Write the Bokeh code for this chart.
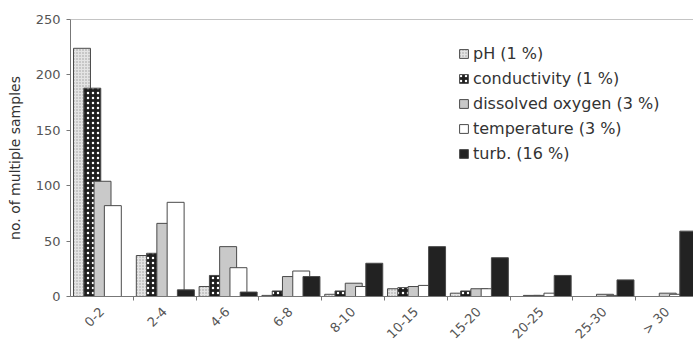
import math
from bokeh.plotting import figure
from bokeh.models import (ColumnDataSource, Range1d, FixedTicker, Span, Legend, LegendItem)
from bokeh.embed import file_html
from bokeh.resources import INLINE

categories = ["0-2", "2-4", "4-6", "6-8", "8-10", "10-15", "15-20", "20-25", "25-30", "> 30"]
ph = [224, 37, 9, 1, 2, 7, 3, 0, 0, 0]
conductivity = [188, 39, 19, 5, 5, 8, 5, 1, 0, 0]
dissolved_oxygen = [104, 66, 45, 18, 12, 9, 7, 1, 2, 3]
temperature = [82, 85, 26, 23, 9, 10, 7, 3, 1, 2]
turb = [0, 6, 4, 18, 30, 45, 35, 19, 15, 59]
series_labels = ["pH (1 %)", "conductivity (1 %)", "dissolved oxygen (3 %)",
                 "temperature (3 %)", "turb. (16 %)"]
y_ticks = [0, 50, 100, 150, 200, 250]

FONT = "DejaVu Sans"
offsets = [0.183, 0.347, 0.510, 0.674, 0.837]
bar_w = 0.27

p = figure(frame_width=623, frame_height=277, output_backend="svg", toolbar_location=None,
           x_range=Range1d(0, 9.92), y_range=Range1d(0, 250),
           min_border_left=70, min_border_right=0, min_border_top=19, min_border_bottom=40)
p.background_fill_color = "white"
p.border_fill_color = "white"
p.outline_line_color = None
p.xgrid.visible = False
p.ygrid.visible = False

styles = [
    dict(fill_color="#e4e4e4", hatch_pattern="dot", hatch_color="#9a9a9a", hatch_scale=3, hatch_weight=0.6),
    dict(fill_color="#1e1e1e", hatch_pattern="dot", hatch_color="white", hatch_scale=5, hatch_weight=2.4),
    dict(fill_color="#c9c9c9"),
    dict(fill_color="white"),
    dict(fill_color="#222222"),
]
data = [ph, conductivity, dissolved_oxygen, temperature, turb]
items = []
for k, (vals, st, lab) in enumerate(zip(data, styles, series_labels)):
    src = ColumnDataSource(dict(x=[i + offsets[k] for i in range(len(categories))], top=vals))
    r = p.vbar(x="x", top="top", width=bar_w, source=src, line_color="#4a4a4a", line_width=1, **st)
    items.append(LegendItem(label=lab, renderers=[r]))

legend = Legend(items=items, location=(388, 133), background_fill_alpha=0, border_line_color=None,
                padding=0, margin=0, spacing=5, label_height=20, glyph_height=11, glyph_width=11,
                label_standoff=4, label_text_font=FONT, label_text_font_size="16px",
                label_text_color="#333333")
p.add_layout(legend)

p.add_layout(Span(location=250, dimension="width", line_color="#8a8a8a", line_width=1))

# y axis
p.yaxis.ticker = FixedTicker(ticks=y_ticks)
p.yaxis.axis_line_color = "#777777"
p.yaxis.major_tick_line_color = "#777777"
p.yaxis.major_tick_out = 4
p.yaxis.major_tick_in = 0
p.yaxis.minor_tick_line_color = None
p.yaxis.major_label_text_font = FONT
p.yaxis.major_label_text_font_size = "13px"
p.yaxis.major_label_text_color = "#555555"
p.yaxis.major_label_standoff = 6
p.yaxis.axis_label = "no. of multiple samples"
p.yaxis.axis_label_text_font = FONT
p.yaxis.axis_label_text_font_size = "14px"
p.yaxis.axis_label_text_font_style = "normal"
p.yaxis.axis_label_text_color = "#333333"
p.yaxis.axis_label_standoff = 10

# x axis
centers = [i + 0.5 for i in range(len(categories))]
p.xaxis.ticker = FixedTicker(ticks=centers, minor_ticks=[float(i) for i in range(1, len(categories))])
p.xaxis.major_label_overrides = {c: lab for c, lab in zip(centers, categories)}
p.xaxis.major_label_orientation = math.pi / 4
p.xaxis.major_tick_line_color = None
p.xaxis.minor_tick_line_color = "#777777"
p.xaxis.minor_tick_out = 4
p.xaxis.minor_tick_in = 0
p.xaxis.axis_line_color = "#777777"
p.xaxis.major_label_text_font = FONT
p.xaxis.major_label_text_font_size = "13px"
p.xaxis.major_label_text_color = "#555555"
p.xaxis.major_label_standoff = 7

open("out.html", "w").write(file_html(p, INLINE))
